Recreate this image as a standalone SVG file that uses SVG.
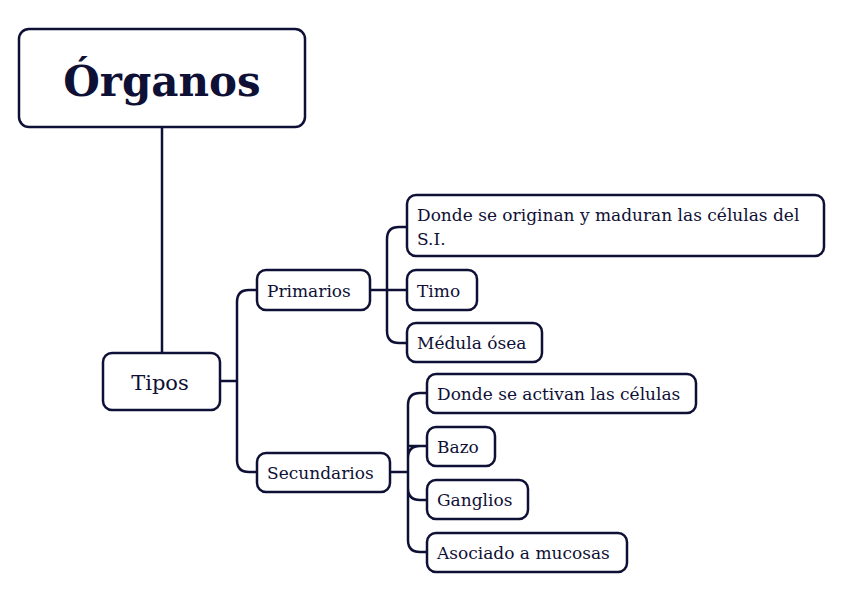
<svg xmlns="http://www.w3.org/2000/svg" width="848" height="599" viewBox="0 0 848 599">
<style>
.box{fill:#fff;stroke:#0f1035;stroke-width:2.5}
.t{font-family:"DejaVu Serif","Liberation Serif",serif;fill:#0f1035;font-size:17px}
.c{fill:none;stroke:#0f1035;stroke-width:2.5}
</style>
<rect width="848" height="599" fill="#fff"/>
<g id="connectors">
<path class="c" d="M162 127V353"/>
<path class="c" d="M220 381H237M257 290H249Q237 290 237 302V460Q237 472 249 472H257"/>
<path class="c" d="M370 290H407M407 227H399Q387 227 387 239V331Q387 343 399 343H407"/>
<path class="c" d="M390 472H408M427 393H420Q408 393 408 405V540Q408 552 420 552H427M408 446H427M408 488Q408 500 420 500H427M408 458Q408 446 420 446"/>
</g>
<g id="n-organos"><rect class="box" x="19" y="29" width="286" height="98" rx="10"/><text class="t" x="162" y="96" text-anchor="middle" style="font-size:42px;font-weight:bold">Órganos</text></g>
<g id="n-tipos"><rect class="box" x="103" y="353" width="117" height="57" rx="9"/><text class="t" x="160" y="390" text-anchor="middle" style="font-size:21px">Tipos</text></g>
<g id="n-primarios"><rect class="box" x="257" y="270" width="113" height="40" rx="9"/><text class="t" x="267" y="297">Primarios</text></g>
<g id="n-secundarios"><rect class="box" x="257" y="453" width="133" height="39" rx="9"/><text class="t" x="267" y="479">Secundarios</text></g>
<g id="n-origen"><rect class="box" x="407" y="195" width="417" height="61" rx="9"/><text class="t" x="417" y="221">Donde se originan y maduran las células del</text><text class="t" x="417" y="245">S.I.</text></g>
<g id="n-timo"><rect class="box" x="407" y="270" width="70" height="40" rx="9"/><text class="t" x="417" y="297">Timo</text></g>
<g id="n-medula"><rect class="box" x="407" y="323" width="135" height="39" rx="9"/><text class="t" x="417" y="349">Médula ósea</text></g>
<g id="n-activan"><rect class="box" x="427" y="374" width="269" height="39" rx="9"/><text class="t" x="437" y="400">Donde se activan las células</text></g>
<g id="n-bazo"><rect class="box" x="427" y="427" width="68" height="39" rx="9"/><text class="t" x="437" y="453">Bazo</text></g>
<g id="n-ganglios"><rect class="box" x="427" y="480" width="101" height="39" rx="9"/><text class="t" x="437" y="506">Ganglios</text></g>
<g id="n-mucosas"><rect class="box" x="427" y="533" width="200" height="39" rx="9"/><text class="t" x="437" y="559">Asociado a mucosas</text></g>
</svg>
